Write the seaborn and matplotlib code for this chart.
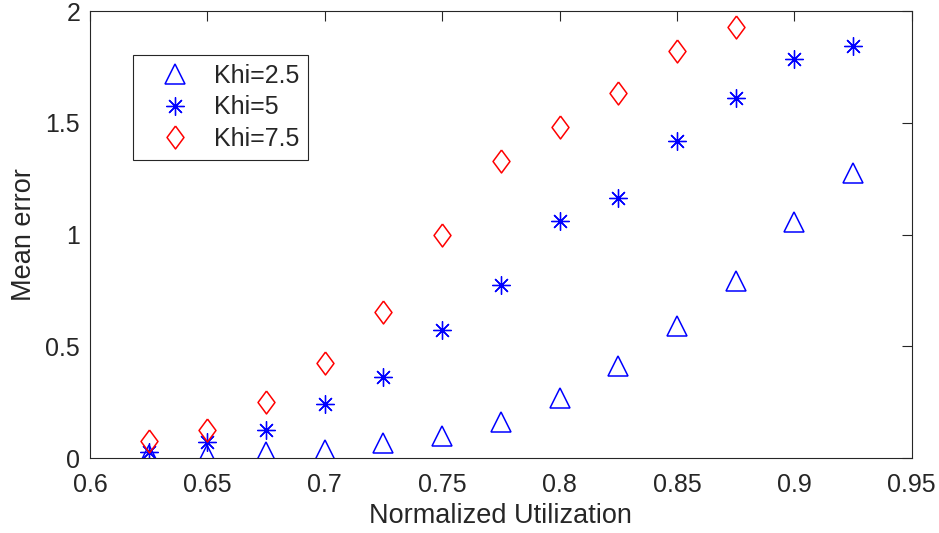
import matplotlib
matplotlib.use("Agg")
import matplotlib.pyplot as plt
import seaborn as sns
import pandas as pd

# ---- data ----
util = [0.625, 0.65, 0.675, 0.7, 0.725, 0.75, 0.775, 0.8, 0.825, 0.85, 0.875, 0.9, 0.925]
khi25 = [0.015, 0.015, 0.025, 0.035, 0.065, 0.10, 0.16, 0.27, 0.41, 0.59, 0.79, 1.055, 1.275]
khi5 = [0.027, 0.07, 0.125, 0.242, 0.362, 0.573, 0.774, 1.06, 1.165, 1.418, 1.61, 1.785, 1.843]
util75 = [0.625, 0.65, 0.675, 0.7, 0.725, 0.75, 0.775, 0.8, 0.825, 0.85, 0.875]
khi75 = [0.076, 0.125, 0.25, 0.425, 0.653, 1.0, 1.33, 1.48, 1.633, 1.82, 1.93]
labels = ["Khi=2.5", "Khi=5", "Khi=7.5"]
xticks = [0.6, 0.65, 0.7, 0.75, 0.8, 0.85, 0.9, 0.95]
xticklabels = ["0.6", "0.65", "0.7", "0.75", "0.8", "0.85", "0.9", "0.95"]
yticks = [0, 0.5, 1, 1.5, 2]
yticklabels = ["0", "0.5", "1", "1.5", "2"]

sns.set_style("white")
plt.rcParams["font.family"] = ["Liberation Sans", "DejaVu Sans"]

fig = plt.figure(figsize=(9.39, 5.33), dpi=100)
ax = fig.add_axes([0.0958, 0.1407, 0.8752, 0.8386])

df1 = pd.DataFrame({"x": util, "y": khi25})
df2 = pd.DataFrame({"x": util, "y": khi5})
df3 = pd.DataFrame({"x": util75, "y": khi75})

diamond = [(0, 1), (0.74, 0), (0, -1), (-0.74, 0), (0, 1)]

sns.lineplot(data=df1, x="x", y="y", ax=ax, linestyle="none", marker="^",
             markersize=14, markerfacecolor="none", markeredgecolor="#0000ff",
             markeredgewidth=1.1, color="#0000ff", label=labels[0])
sns.lineplot(data=df2, x="x", y="y", ax=ax, linestyle="none", marker=(8, 2, 0),
             markersize=13, markeredgecolor="#0000ff", markeredgewidth=0.95,
             color="#0000ff", label=labels[1])
sns.lineplot(data=df3, x="x", y="y", ax=ax, linestyle="none", marker=diamond,
             markersize=16.5, markerfacecolor="none", markeredgecolor="#ff0000",
             markeredgewidth=1.1, color="#ff0000", label=labels[2])

ax.set_xlim(0.6, 0.95)
ax.set_ylim(0, 2)
ax.set_xticks(xticks)
ax.set_xticklabels(xticklabels)
ax.set_yticks(yticks)
ax.set_yticklabels(yticklabels)
ax.set_xlabel("Normalized Utilization", fontsize=19.5, color="#262626", labelpad=4)
ax.set_ylabel("Mean error", fontsize=19.5, color="#262626", labelpad=6)
ax.tick_params(direction="in", length=7, width=0.8, colors="#262626",
               labelsize=18, top=True, right=True, labelcolor="#262626", pad=7)
ax.tick_params(axis="x", pad=11)
for s in ax.spines.values():
    s.set_color("#262626")
    s.set_linewidth(0.8)

leg = ax.legend(loc="upper left", bbox_to_anchor=(0.0523, 0.9016), frameon=True,
                fancybox=False, fontsize=18, handletextpad=0.2,
                borderpad=0.35, labelspacing=0.3, handlelength=2.7, borderaxespad=0)
leg.get_frame().set_edgecolor("#262626")
leg.get_frame().set_linewidth(0.8)
leg.get_frame().set_alpha(1)

fig.savefig("out.png", dpi=100)
